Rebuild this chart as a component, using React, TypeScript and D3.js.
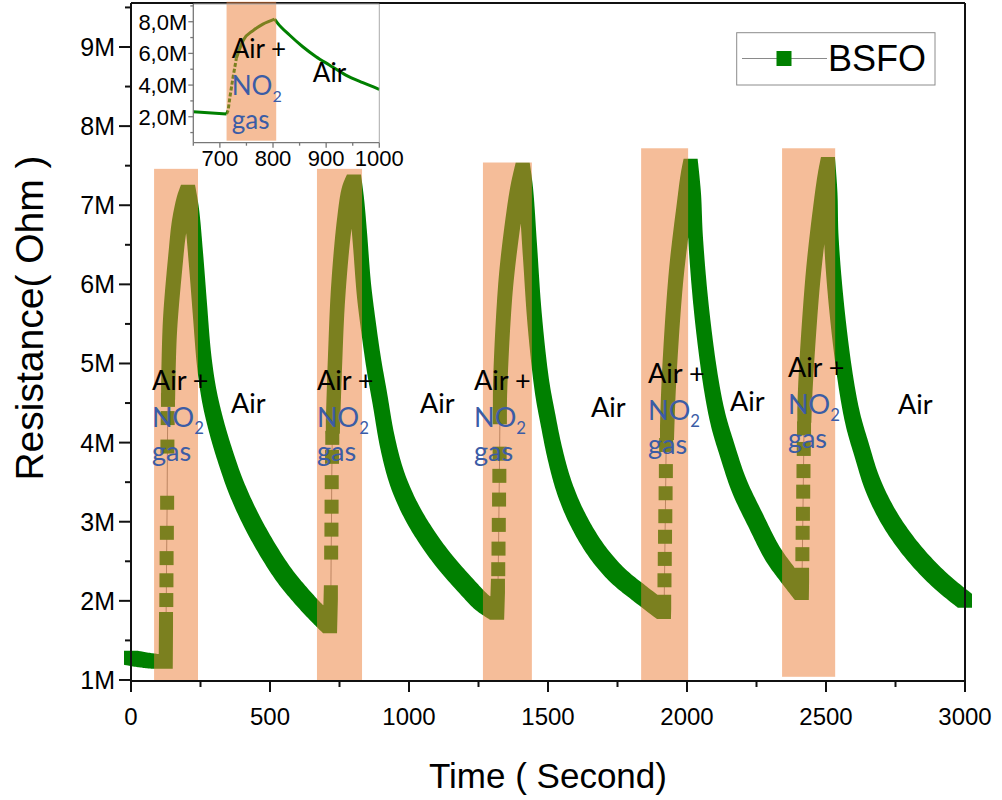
import React from 'react';
import * as d3 from 'd3';

// Each point: [time in s, resistance in MΩ]
type Pt = [number, number];

// Densely sampled stretches of the BSFO response (markers overlap into a band)
const trace0: Pt[] = [[0, 1.28], [50, 1.25], [104, 1.23], [122, 1.23], [125, 1.23], [126, 1.77]];
const trace1: Pt[] = [[133.5, 4.63], [140, 5.46], [160, 6.31], [173, 6.73], [191, 7.03], [205, 7.17], [219, 6.88], [234, 6.31], [248, 5.68], [263, 5.04], [281, 4.6], [306, 4.22], [338, 3.84], [378, 3.44], [428, 3.05], [489, 2.66], [554, 2.31], [615, 2.05], [673, 1.83], [716, 1.68], [719, 2.11]];
const trace2: Pt[] = [[726, 4.2], [734, 5.04], [745, 5.89], [766, 6.73], [784, 7.14], [802, 7.3], [813, 7.0], [824, 6.56], [838, 5.93], [856, 5.42], [874, 4.98], [896, 4.54], [921, 4.03], [953, 3.59], [989, 3.27], [1036, 2.96], [1112, 2.57], [1205, 2.19], [1266, 1.97], [1317, 1.85], [1320, 2.19]];
const trace3: Pt[] = [[1327, 4.32], [1328, 4.72], [1348, 6.0], [1376, 6.84], [1392, 7.19], [1409, 7.45], [1421, 7.13], [1435, 6.43], [1452, 5.56], [1478, 4.72], [1500, 4.29], [1525, 3.86], [1558, 3.44], [1604, 3.05], [1673, 2.64], [1748, 2.33], [1831, 2.09], [1917, 1.86], [1918, 1.99]];
const trace4: Pt[] = [[1928, 4.12], [1935, 4.78], [1960, 6.08], [1989, 6.95], [2003, 7.32], [2013, 7.5], [2025, 7.07], [2032, 6.52], [2053, 5.65], [2085, 4.78], [2112, 4.29], [2144, 3.91], [2187, 3.46], [2245, 3.03], [2309, 2.59], [2360, 2.34], [2413, 2.1], [2414, 2.33]];
const trace5: Pt[] = [[2422, 4.34], [2427, 4.78], [2453, 6.08], [2481, 6.95], [2496, 7.32], [2507, 7.52], [2516, 7.07], [2520, 6.52], [2540, 5.65], [2571, 4.78], [2597, 4.29], [2628, 3.91], [2669, 3.46], [2730, 3.03], [2813, 2.62], [2910, 2.26], [3000, 2.0]];

// Fast rise right after NO2 is admitted: readings are far apart, so each marker stands alone
const rise1: Pt[] = [[127, 2.01], [127.5, 2.26], [128, 2.54], [129, 2.86], [130, 3.24], [131, 3.95], [132, 4.31], [133, 4.54]];
const rise2: Pt[] = [[720, 2.61], [721, 2.9], [721.5, 3.19], [722, 3.5], [723, 3.82], [724, 4.06]];
const rise3: Pt[] = [[1321, 2.4], [1322, 2.66], [1323, 2.96], [1324, 3.28], [1325, 3.58], [1326, 3.86]];
const rise4: Pt[] = [[1919, 2.26], [1920, 2.53], [1921, 2.81], [1922, 3.07], [1923, 3.36], [1924, 3.64], [1925, 3.97]];
const rise5: Pt[] = [[2415, 2.59], [2416, 2.86], [2417, 3.1], [2418, 3.38], [2419, 3.64], [2420, 3.92], [2421, 4.18]];

const traces = [trace0, trace1, trace2, trace3, trace4, trace5];
const rises = [rise1, rise2, rise3, rise4, rise5];
const fullSeries: Pt[] = [
  ...trace0, ...rise1, ...trace1, ...rise2, ...trace2, ...rise3, ...trace3, ...rise4, ...trace4, ...rise5, ...trace5,
];

// Gas exposure windows (s) and shading heights (MΩ)
const gasOn = [83, 669, 1266, 1835, 2342];
const gasOff = [241, 831, 1442, 2004, 2533];
const gasTop = [7.46, 7.46, 7.54, 7.72, 7.72];
const gasBottom = [0.987, 0.987, 0.987, 0.987, 1.04];

// Annotation anchors in data units
const gasLabelTime = [75.5, 669, 1234, 1860, 2363];
const gasLabelR = [4.66, 4.665, 4.66, 4.754, 4.83];
const airLabelTime = [360, 1040, 1655, 2155, 2759];
const airLabelR = [4.37, 4.37, 4.32, 4.4, 4.36];

// Axes
const xTicks = [0, 500, 1000, 1500, 2000, 2500, 3000];
const xMinorTicks = [250, 750, 1250, 1750, 2250, 2750];
const yTicks = [1, 2, 3, 4, 5, 6, 7, 8, 9];
const yMinorTicks = [1.5, 2.5, 3.5, 4.5, 5.5, 6.5, 7.5, 8.5, 9.5];

// Inset: zoom on the second exposure
const insetTime = [650, 712.6, 715.6, 719, 725, 731, 744, 763, 781, 803, 809, 831, 856, 881, 906, 937, 969, 1000];
const insetR = [2.32, 2.17, 2.42, 3.26, 4.53, 5.69, 6.83, 7.45, 7.85, 8.17, 7.9, 7.16, 6.42, 5.79, 5.27, 4.63, 4.15, 3.73];
const insetXTicks = [700, 800, 900, 1000];
const insetXMinor = [650, 750, 850, 950];
const insetYTicks = [2, 4, 6, 8];
const insetYMinor = [1, 3, 5, 7, 9];
const insetGas = { on: 712.6, off: 806 };
const insetGasLabel = { t: 722.3, r: 5.69 };
const insetAirLabel = { t: 875, r: 4.21 };

const GREEN = '#008000';
const SHADE = 'rgb(235,128,60)';
const BLUE = '#3b5ca6';
const ANNOT_FONT = 'Lato, "Open Sans", sans-serif';
const AXIS_FONT = '"Liberation Sans", Arial, sans-serif';

// Collects the pixel polyline that d3 draws for a smooth curve, so the
// square markers can be swept along it.
function sampleCurve(gen: (ctx: any) => void): [number, number][] {
  const out: [number, number][] = [];
  let cx = 0, cy = 0;
  const steps = 14;
  const ctx = {
    moveTo(x: number, y: number) { out.push([x, y]); cx = x; cy = y; },
    lineTo(x: number, y: number) { out.push([x, y]); cx = x; cy = y; },
    bezierCurveTo(x1: number, y1: number, x2: number, y2: number, x: number, y: number) {
      for (let i = 1; i <= steps; i++) {
        const t = i / steps, u = 1 - t;
        out.push([
          u * u * u * cx + 3 * u * u * t * x1 + 3 * u * t * t * x2 + t * t * t * x,
          u * u * u * cy + 3 * u * u * t * y1 + 3 * u * t * t * y2 + t * t * t * y,
        ]);
      }
      cx = x; cy = y;
    },
    closePath() {},
  };
  gen(ctx);
  return out;
}

// Split a trace at its turning points so peaks and valleys stay sharp.
function splitMonotone(pts: Pt[]): Pt[][] {
  const parts: Pt[][] = [];
  let cur: Pt[] = [pts[0]];
  let dir = 0;
  for (let i = 1; i < pts.length; i++) {
    const dv = pts[i][1] - pts[i - 1][1];
    const s = dv > 0 ? 1 : dv < 0 ? -1 : 0;
    if (s !== 0 && dir !== 0 && s !== dir) {
      parts.push(cur);
      cur = [pts[i - 1]];
    }
    if (s !== 0) dir = s;
    cur.push(pts[i]);
  }
  parts.push(cur);
  return parts;
}

export default function App() {
  const W = 1002;
  const H = 800;
  const left = 131, right = 965, top = 3, bottom = 681;

  const x = d3.scaleLinear().domain([0, 3000]).range([left, right]);
  const y = d3.scaleLinear().domain([0.987, 9.556]).range([bottom, top]);

  const half = 7;
  const smooth = d3.line<Pt>().x((d) => x(d[0])).y((d) => y(d[1])).curve(d3.curveCatmullRom.alpha(0.5));

  const sweep = (pts: Pt[]) => {
    let d = '';
    for (const part of splitMonotone(pts)) {
      const px = sampleCurve((ctx) => smooth.context(ctx)(part));
      for (let i = 0; i < px.length - 1; i++) {
        const corners: [number, number][] = [];
        for (const [cx, cy] of [px[i], px[i + 1]]) {
          corners.push([cx - half, cy - half], [cx + half, cy - half], [cx + half, cy + half], [cx - half, cy + half]);
        }
        const hull = d3.polygonHull(corners);
        if (hull) d += 'M' + hull.map((p) => `${p[0].toFixed(2)},${p[1].toFixed(2)}`).join('L') + 'Z';
      }
    }
    smooth.context(null);
    return d;
  };

  const thinLine = d3
    .line<Pt>()
    .x((d) => x(d[0]))
    .y((d) => y(d[1]))(fullSeries);

  // inset scales
  const iLeft = 193.3, iRight = 379.3, iTop = 4, iBottom = 142.7;
  const xi = d3.scaleLinear().domain([650, 1000]).range([iLeft, iRight]);
  const yi = d3.scaleLinear().domain([0.36, 9.12]).range([iBottom, iTop]);
  const insetPts: [number, number][] = insetTime.map((t, i) => [t, insetR[i]]);
  const iLine = d3.line<[number, number]>().x((d) => xi(d[0])).y((d) => yi(d[1]));
  const iLineSmooth = d3.line<[number, number]>().x((d) => xi(d[0])).y((d) => yi(d[1])).curve(d3.curveMonotoneX);
  const insetRiseEnd = 5;
  const insetPeak = insetR.indexOf(Math.max(...insetR));

  const gasStack = (px: number, py: number, key: string, size = 27) => (
    <g key={key} fontFamily={ANNOT_FONT} fontSize={size}>
      <text x={px} y={py} fill="#000">Air +</text>
      <text x={px} y={py + 37} fill={BLUE}>
        NO<tspan fontSize={size * 0.62} dy={7}>2</tspan>
      </text>
      <text x={px} y={py + 71} fill={BLUE}>gas</text>
    </g>
  );

  return (
    <svg width={W} height={H} style={{ position: 'absolute', left: 0, top: 0, background: '#fff' }}>
      <rect x={0} y={0} width={W} height={H} fill="#fff" />

      {/* connecting line */}
      <path d={thinLine || ''} fill="none" stroke="#8a8a8a" strokeWidth={1} />

      {/* dense marker bands */}
      {traces.map((tr, i) => (
        <path key={`band${i}`} d={sweep(tr)} fill={GREEN} />
      ))}

      {/* isolated markers */}
      {rises.map((rs, i) =>
        rs.map((p, j) => (
          <rect key={`m${i}-${j}`} x={x(p[0]) - half} y={y(p[1]) - half} width={half * 2} height={half * 2} fill={GREEN} />
        ))
      )}

      {/* gas exposure shading */}
      {gasOn.map((t0, i) => (
        <rect
          key={`gas${i}`}
          x={x(t0)}
          y={y(gasTop[i])}
          width={x(gasOff[i]) - x(t0)}
          height={y(gasBottom[i]) - y(gasTop[i])}
          fill={SHADE}
          fillOpacity={0.52}
        />
      ))}

      {/* annotations */}
      {gasLabelTime.map((t, i) => gasStack(x(t), y(gasLabelR[i]), `gl${i}`))}
      {airLabelTime.map((t, i) => (
        <text key={`al${i}`} x={x(t)} y={y(airLabelR[i])} fontFamily={ANNOT_FONT} fontSize={27} fill="#000">
          Air
        </text>
      ))}

      {/* frame */}
      <line x1={left} x2={right} y1={top} y2={top} stroke="#111" strokeWidth={2} />
      <line x1={right} x2={right} y1={top} y2={bottom} stroke="#111" strokeWidth={2} />
      <line x1={left} x2={left} y1={top} y2={bottom + 1} stroke="#111" strokeWidth={2} />
      <line x1={left - 1} x2={right + 1} y1={bottom} y2={bottom} stroke="#111" strokeWidth={2} />

      {/* x axis */}
      {xTicks.map((t) => (
        <g key={`xt${t}`}>
          <line x1={x(t)} x2={x(t)} y1={bottom} y2={bottom + 11} stroke="#111" strokeWidth={2} />
          <text x={x(t)} y={bottom + 44} textAnchor="middle" fontFamily={AXIS_FONT} fontSize={24} fill="#000">
            {t}
          </text>
        </g>
      ))}
      {xMinorTicks.map((t) => (
        <line key={`xm${t}`} x1={x(t)} x2={x(t)} y1={bottom} y2={bottom + 6} stroke="#111" strokeWidth={2} />
      ))}

      {/* y axis */}
      {yTicks.map((v) => (
        <g key={`yt${v}`}>
          <line x1={left - 12} x2={left} y1={y(v)} y2={y(v)} stroke="#111" strokeWidth={2} />
          <text x={left - 16} y={y(v)} dy="0.36em" textAnchor="end" fontFamily={AXIS_FONT} fontSize={25} fill="#000">
            {`${v}M`}
          </text>
        </g>
      ))}
      {yMinorTicks.map((v) => (
        <line key={`ym${v}`} x1={left - 6} x2={left} y1={y(v)} y2={y(v)} stroke="#111" strokeWidth={2} />
      ))}

      {/* axis titles */}
      <text x={548} y={788} textAnchor="middle" fontFamily={AXIS_FONT} fontSize={35} fill="#000">
        Time ( Second)
      </text>
      <text
        transform={`translate(43, ${(top + bottom) / 2 - 24}) rotate(-90)`}
        textAnchor="middle"
        fontFamily={AXIS_FONT}
        fontSize={39}
        fill="#000"
      >
        Resistance( Ohm )
      </text>

      {/* legend */}
      <g>
        <rect x={736.7} y={32.7} width={198.3} height={52.3} fill="#fff" stroke="#8c8c8c" strokeWidth={1} />
        <line x1={742} x2={827} y1={58.5} y2={58.5} stroke="#8a8a8a" strokeWidth={1.2} />
        <rect x={784 - 7.5} y={58.5 - 7.5} width={15} height={15} fill={GREEN} />
        <text x={828} y={71} fontFamily={AXIS_FONT} fontSize={36} fill="#000">
          BSFO
        </text>
      </g>

      {/* inset */}
      <g>
        <path d={iLine(insetPts.slice(0, 2)) || ''} fill="none" stroke={GREEN} strokeWidth={3} />
        <path
          d={iLine(insetPts.slice(1, insetRiseEnd + 1)) || ''}
          fill="none"
          stroke={GREEN}
          strokeWidth={3}
          strokeDasharray="4 2"
        />
        <path d={iLineSmooth(insetPts.slice(insetRiseEnd, insetPeak + 1)) || ''} fill="none" stroke={GREEN} strokeWidth={3} />
        <path d={iLineSmooth(insetPts.slice(insetPeak)) || ''} fill="none" stroke={GREEN} strokeWidth={3} />
        <rect
          x={xi(insetGas.on)}
          y={1.7}
          width={xi(insetGas.off) - xi(insetGas.on)}
          height={iBottom - 1.7 - 2}
          fill={SHADE}
          fillOpacity={0.52}
        />
        <line x1={iLeft} x2={iRight} y1={iTop} y2={iTop} stroke="#aaa" strokeWidth={1} />
        <line x1={iRight} x2={iRight} y1={iTop} y2={iBottom} stroke="#aaa" strokeWidth={1} />
        <line x1={iLeft} x2={iLeft} y1={iTop} y2={iBottom} stroke="#777" strokeWidth={1.3} />
        <line x1={iLeft} x2={iRight} y1={iBottom} y2={iBottom} stroke="#777" strokeWidth={1.3} />
        {insetXTicks.map((t) => (
          <g key={`ixt${t}`}>
            <line x1={xi(t)} x2={xi(t)} y1={iBottom} y2={iBottom + 5} stroke="#777" strokeWidth={1.3} />
            <text x={xi(t)} y={iBottom + 23} textAnchor="middle" fontFamily={AXIS_FONT} fontSize={22} fill="#000">
              {t}
            </text>
          </g>
        ))}
        {insetXMinor.map((t) => (
          <line key={`ixm${t}`} x1={xi(t)} x2={xi(t)} y1={iBottom} y2={iBottom + 3} stroke="#777" strokeWidth={1.3} />
        ))}
        {insetYTicks.map((v) => (
          <g key={`iyt${v}`}>
            <line x1={iLeft - 5} x2={iLeft} y1={yi(v)} y2={yi(v)} stroke="#777" strokeWidth={1.3} />
            <text x={iLeft - 6} y={yi(v)} dy="0.36em" textAnchor="end" fontFamily={AXIS_FONT} fontSize={22} fill="#000">
              {`${v},0M`}
            </text>
          </g>
        ))}
        {insetYMinor.map((v) => (
          <line key={`iym${v}`} x1={iLeft - 3} x2={iLeft} y1={yi(v)} y2={yi(v)} stroke="#777" strokeWidth={1.3} />
        ))}
        {gasStack(xi(insetGasLabel.t), yi(insetGasLabel.r), 'igl', 26)}
        <text x={xi(insetAirLabel.t)} y={yi(insetAirLabel.r)} fontFamily={ANNOT_FONT} fontSize={26} fill="#000">
          Air
        </text>
      </g>
    </svg>
  );
}
